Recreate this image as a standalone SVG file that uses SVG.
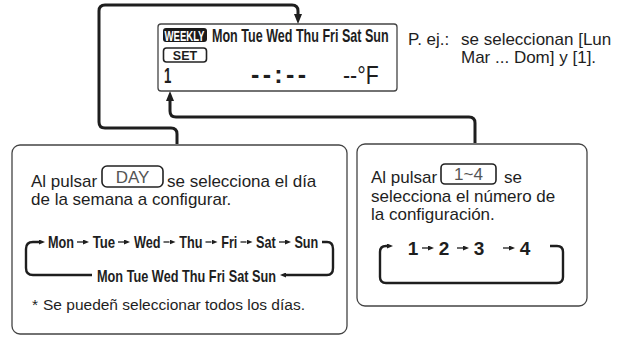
<svg xmlns="http://www.w3.org/2000/svg" width="629" height="337" viewBox="0 0 629 337">
<style>
.t{font-family:"Liberation Sans",Arial,sans-serif;fill:#1e1e1e}
.c{font-family:"Liberation Sans",Arial,sans-serif;fill:#1e1e1e;font-weight:bold}
.box{fill:none;stroke:#444;stroke-width:1.3}
.btn{fill:none;stroke:#222;stroke-width:1.6}
.bt{font-family:"Liberation Sans",Arial,sans-serif;fill:#555}
.conn{fill:none;stroke:#1e1e1e;stroke-width:3}
.loop{fill:none;stroke:#1e1e1e;stroke-width:2.4}
.sa{stroke:#1e1e1e;stroke-width:1.3}
</style>
<defs>
<marker id="ah" viewBox="0 0 10 8" refX="0" refY="4" markerWidth="10" markerHeight="8" markerUnits="userSpaceOnUse" orient="auto"><path d="M0,0 L10,4 L0,8 z" fill="#1e1e1e"/></marker>
<marker id="sm" viewBox="0 0 6 5" refX="0" refY="2.5" markerWidth="6" markerHeight="5" markerUnits="userSpaceOnUse" orient="auto"><path d="M0,0 L6,2.5 L0,5 z" fill="#1e1e1e"/></marker>
</defs>

<g id="connectors">
<path class="conn" d="M177,144 V134 Q177,128 171,128 H105 Q99,128 99,122 V11 Q99,5 105,5 H292 Q298,5 298,11 V14" marker-end="url(#ah)"/>
<path class="conn" d="M475,143 V123 Q475,117 469,117 H176 Q170,117 170,111 V101" marker-end="url(#ah)"/>
</g>

<g id="display">
<rect x="158" y="24" width="239" height="67" rx="3" class="box" stroke="#333"/>
<rect x="163" y="28" width="44" height="14" rx="3" fill="#1a1a1a"/>
<text transform="translate(164.5,40.5) scale(0.66,1)" class="c" font-size="14.5" style="fill:#fff">WEEKLY</text>
<text transform="translate(212,42) scale(0.718,1)" class="c" font-size="17.5">Mon Tue Wed Thu Fri Sat Sun</text>
<rect x="163.5" y="48" width="43" height="14" rx="3" class="btn"/>
<text x="185" y="59.5" class="c" font-size="12.5" text-anchor="middle">SET</text>
<text transform="translate(164,83) scale(0.6,1)" class="c" font-size="22">1</text>
<text x="251" y="83" class="c" font-size="25" textLength="55" lengthAdjust="spacing">--:--</text>
<text transform="translate(343,84) scale(0.82,1)" class="t" font-size="26">--°F</text>
</g>

<g id="example-note">
<text class="t" font-size="17"><tspan x="408" y="45">P. ej.:</tspan><tspan x="461" y="45">se seleccionan [Lun</tspan><tspan x="461" y="63">Mar ... Dom] y [1].</tspan></text>
</g>

<g id="day-box">
<rect x="12" y="145" width="335" height="189" rx="8" class="box"/>
<text x="31" y="187" class="t" font-size="17">Al pulsar</text>
<rect x="102" y="166" width="61" height="21" rx="5" class="btn"/>
<text x="132.5" y="183" class="bt" font-size="17" text-anchor="middle">DAY</text>
<text x="167" y="187" class="t" font-size="17">se selecciona el día</text>
<text x="31" y="205" class="t" font-size="17">de la semana a configurar.</text>
<text x="48" y="248" class="c" font-size="17" textLength="26" lengthAdjust="spacingAndGlyphs">Mon</text>
<text x="92.7" y="248" class="c" font-size="17" textLength="22.5" lengthAdjust="spacingAndGlyphs">Tue</text>
<text x="133.9" y="248" class="c" font-size="17" textLength="26.7" lengthAdjust="spacingAndGlyphs">Wed</text>
<text x="179.3" y="248" class="c" font-size="17" textLength="23.2" lengthAdjust="spacingAndGlyphs">Thu</text>
<text x="221.2" y="248" class="c" font-size="17" textLength="16.1" lengthAdjust="spacingAndGlyphs">Fri</text>
<text x="256" y="248" class="c" font-size="17" textLength="19.7" lengthAdjust="spacingAndGlyphs">Sat</text>
<text x="294.4" y="248" class="c" font-size="17" textLength="23.9" lengthAdjust="spacingAndGlyphs">Sun</text>
<g class="sa">
<line x1="77" y1="242" x2="83" y2="242" marker-end="url(#sm)"/>
<line x1="118" y1="242" x2="124" y2="242" marker-end="url(#sm)"/>
<line x1="163.5" y1="242" x2="169.5" y2="242" marker-end="url(#sm)"/>
<line x1="205.5" y1="242" x2="211.5" y2="242" marker-end="url(#sm)"/>
<line x1="240.5" y1="242" x2="246.5" y2="242" marker-end="url(#sm)"/>
<line x1="279" y1="242" x2="285" y2="242" marker-end="url(#sm)"/>
</g>
<path class="loop" d="M92,275 H33 Q26,275 26,268 V249 Q26,242 33,242 H39" marker-end="url(#sm)"/>
<path class="loop" d="M322,242 H327 Q333,242 333,249 V268 Q333,275 327,275 H286" marker-end="url(#sm)"/>
<text x="97" y="282" class="c" font-size="17" textLength="179" lengthAdjust="spacingAndGlyphs">Mon Tue Wed Thu Fri Sat Sun</text>
<text class="t" font-size="15.5"><tspan x="32" y="310">*</tspan><tspan x="43" y="310">Se puedeñ seleccionar todos los días.</tspan></text>
</g>

<g id="number-box">
<rect x="357" y="144" width="230" height="162" rx="8" class="box"/>
<text x="371" y="183" class="t" font-size="17">Al pulsar</text>
<rect x="441" y="164" width="55" height="20" rx="4" class="btn"/>
<text x="468.5" y="180" class="bt" font-size="17" text-anchor="middle">1~4</text>
<text x="504" y="183" class="t" font-size="17">se</text>
<text x="371" y="202" class="t" font-size="17">selecciona el número de</text>
<text x="371" y="220" class="t" font-size="17">la configuración.</text>
<text x="413" y="255" class="c" font-size="19" text-anchor="middle">1</text>
<text x="444" y="255" class="c" font-size="19" text-anchor="middle">2</text>
<text x="479" y="255" class="c" font-size="19" text-anchor="middle">3</text>
<text x="525" y="255" class="c" font-size="19" text-anchor="middle">4</text>
<g class="sa">
<line x1="422" y1="248" x2="428" y2="248" marker-end="url(#sm)"/>
<line x1="457" y1="248" x2="463" y2="248" marker-end="url(#sm)"/>
<line x1="503" y1="248" x2="509" y2="248" marker-end="url(#sm)"/>
</g>
<path class="loop" d="M550,246 H557 Q563,246 563,252 V277 Q563,283 557,283 H386 Q380,283 380,277 V252 Q380,246 386,246 H387" marker-end="url(#sm)"/>
</g>
</svg>
